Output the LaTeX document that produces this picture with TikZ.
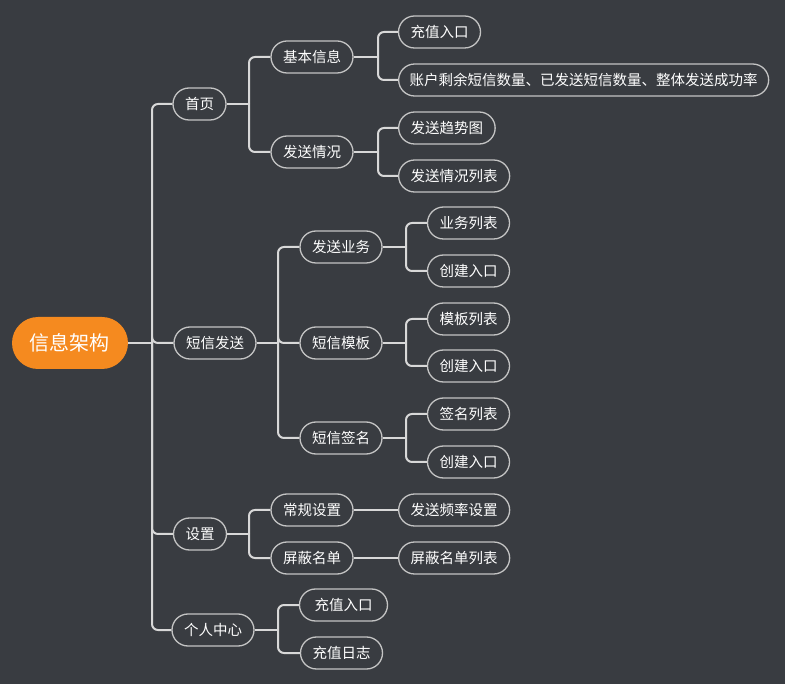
\documentclass[tikz,border=0pt]{standalone}
\usepackage{fontspec}
\setmainfont{Noto Sans CJK SC}
\definecolor{bg}{HTML}{393C41}
\definecolor{edgec}{HTML}{D8D8D8}
\definecolor{bordc}{HTML}{C4C4C4}
\definecolor{rootc}{HTML}{F58A1F}
\tikzset{
  topic/.style={draw=bordc, line width=1.3pt, fill=bg, text=white, rounded corners=16pt,
    minimum height=32pt, inner xsep=12pt, inner ysep=0pt, font=\fontsize{14.5pt}{16pt}\selectfont},
  roottopic/.style={fill=rootc, text=white, rounded corners=26pt, minimum height=52pt,
    inner xsep=18pt, font=\fontsize{20pt}{22pt}\selectfont},
  edge/.style={draw=edgec, line width=2pt},
  branchline/.style={edge, rounded corners=6pt}
}
\begin{document}
\begin{tikzpicture}[x=1pt,y=-1pt]
\fill[bg] (0,0) rectangle (785,684);
\useasboundingbox (0,0) rectangle (785,684);

% nodes
\node[roottopic] (root) at (70,343) {信息架构};

\node[topic] (a) at (199.5,104) {首页};
\node[topic] (b) at (215,343) {短信发送};
\node[topic] (c) at (200,534) {设置};
\node[topic] (d) at (213,630) {个人中心};

\node[topic] (a1) at (312,57) {基本信息};
\node[topic] (a2) at (312,152) {发送情况};
\node[topic] (a11) at (439.5,32) {充值入口};
\node[topic, anchor=west, inner xsep=11pt] (a12) at (398,80) {账户剩余短信数量、已发送短信数量、整体发送成功率};
\node[topic, anchor=west] (a21) at (398,128) {发送趋势图};
\node[topic, anchor=west] (a22) at (398,176) {发送情况列表};

\node[topic] (b1) at (341,247) {发送业务};
\node[topic] (b2) at (341,343) {短信模板};
\node[topic] (b3) at (341,438) {短信签名};
\node[topic] (b11) at (468.5,223) {业务列表};
\node[topic] (b12) at (468.5,271) {创建入口};
\node[topic] (b21) at (468.5,319) {模板列表};
\node[topic] (b22) at (468.5,366) {创建入口};
\node[topic] (b31) at (468.5,414) {签名列表};
\node[topic] (b32) at (468.5,462) {创建入口};

\node[topic] (c1) at (312,510) {常规设置};
\node[topic] (c2) at (312,558) {屏蔽名单};
\node[topic, anchor=west] (c11) at (398,510) {发送频率设置};
\node[topic, anchor=west] (c21) at (398,558) {屏蔽名单列表};

\node[topic, inner xsep=15pt] (d1) at (343.5,605) {充值入口};
\node[topic] (d2) at (341.5,653) {充值日志};

% junction coordinates
\coordinate (jroot) at (152,343);
\coordinate (ja) at (249,104);
\coordinate (jb) at (278,343);
\coordinate (jc) at (249,534);
\coordinate (jd) at (278,630);
\coordinate (ja1) at (378,57);
\coordinate (ja2) at (378,152);
\coordinate (jb1) at (406,247);
\coordinate (jb2) at (406,343);
\coordinate (jb3) at (406,438);

% edges
\draw[edge] (root.east) -- (jroot);
\foreach \n in {a,b,c,d} \draw[branchline] (jroot) |- (\n.west);

\draw[edge] (a.east) -- (ja);
\foreach \n in {a1,a2} \draw[branchline] (ja) |- (\n.west);
\draw[edge] (a1.east) -- (ja1);
\foreach \n in {a11,a12} \draw[branchline] (ja1) |- (\n.west);
\draw[edge] (a2.east) -- (ja2);
\foreach \n in {a21,a22} \draw[branchline] (ja2) |- (\n.west);

\draw[edge] (b.east) -- (jb);
\foreach \n in {b1,b2,b3} \draw[branchline] (jb) |- (\n.west);
\draw[edge] (b1.east) -- (jb1);
\foreach \n in {b11,b12} \draw[branchline] (jb1) |- (\n.west);
\draw[edge] (b2.east) -- (jb2);
\foreach \n in {b21,b22} \draw[branchline] (jb2) |- (\n.west);
\draw[edge] (b3.east) -- (jb3);
\foreach \n in {b31,b32} \draw[branchline] (jb3) |- (\n.west);

\draw[edge] (c.east) -- (jc);
\foreach \n in {c1,c2} \draw[branchline] (jc) |- (\n.west);
\draw[edge] (c1.east) -- (c11.west);
\draw[edge] (c2.east) -- (c21.west);

\draw[edge] (d.east) -- (jd);
\foreach \n in {d1,d2} \draw[branchline] (jd) |- (\n.west);
\end{tikzpicture}
\end{document}
